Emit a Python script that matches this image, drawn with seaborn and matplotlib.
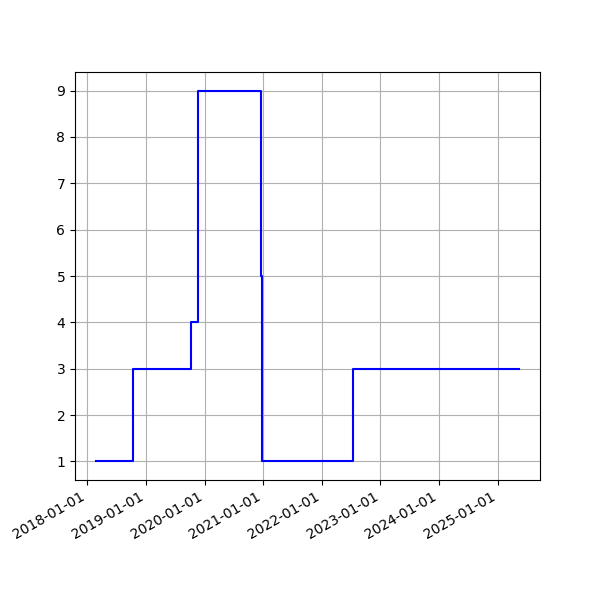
import matplotlib
matplotlib.use('Agg')
import matplotlib.pyplot as plt
import matplotlib.dates as mdates
import pandas as pd
import seaborn as sns

dates = ['2018-02-25', '2018-10-12', '2019-10-09', '2019-11-22',
         '2020-12-16', '2020-12-23', '2022-07-13', '2025-05-12']
values = [1, 3, 4, 9, 5, 1, 3, 3]

df = pd.DataFrame({'date': pd.to_datetime(dates), 'value': values})

fig, ax = plt.subplots(figsize=(6, 6), dpi=100)
sns.lineplot(x='date', y='value', data=df, ax=ax, color='blue',
             drawstyle='steps-post')

ax.xaxis.set_major_locator(mdates.YearLocator())
ax.xaxis.set_major_formatter(mdates.DateFormatter('%Y-%m-%d'))
ax.set_xlabel('')
ax.set_ylabel('')
ax.grid(True)
fig.autofmt_xdate()

fig.savefig('out.png')
